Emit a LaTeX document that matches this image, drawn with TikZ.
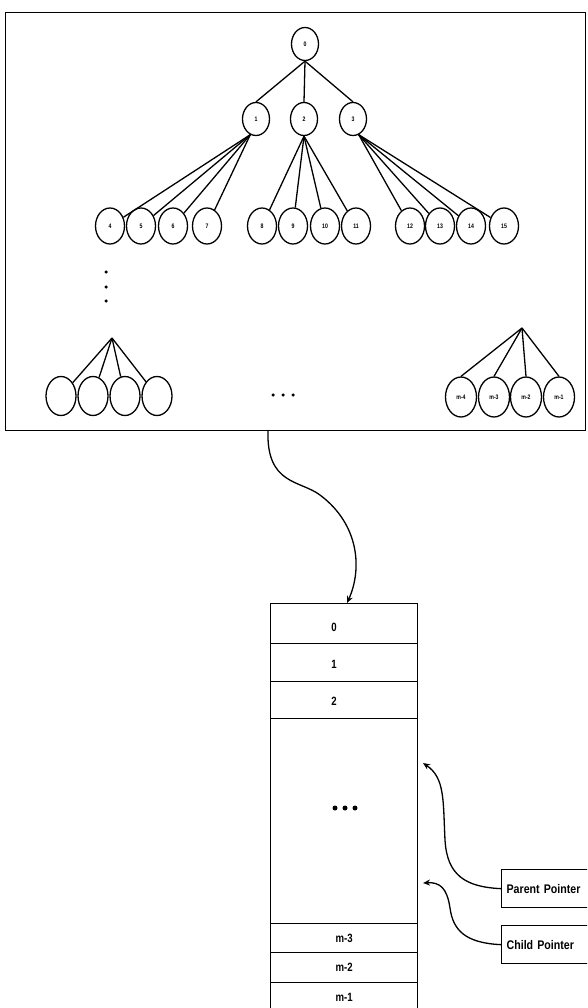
\documentclass[tikz,border=0pt]{standalone}
\usepackage{fontspec}
\setsansfont[FakeStretch=0.8]{Liberation Sans}
\newfontfamily\ptrfont[FakeStretch=0.85]{Liberation Sans}
\usetikzlibrary{shapes.geometric,arrows.meta}
\begin{document}
\begin{tikzpicture}[x=1pt,y=-1pt, line width=1.3pt,
  tnode/.style={draw, ellipse, inner sep=0pt, minimum width=27pt, minimum height=33pt,
    font=\sffamily\bfseries\fontsize{6.5}{6.5}\selectfont},
  leaf/.style={tnode, minimum width=29pt, minimum height=36pt},
  bleaf/.style={tnode, minimum width=30pt, minimum height=39pt},
  cell/.style={draw, anchor=north west, minimum width=147pt, inner sep=0pt,
    font=\sffamily\bfseries\fontsize{12}{12}\selectfont},
  lbl/.style={font=\sffamily\bfseries\fontsize{12}{12}\selectfont, inner sep=0pt},
  ptrbox/.style={draw, anchor=north west, text width=110pt, align=left, inner xsep=5pt,
    minimum height=38pt, font=\ptrfont\bfseries\fontsize{12.5}{12.5}\selectfont},
  ptr/.style={-{Stealth[length=7pt,width=6pt]}},
  dot/.style={fill, circle, inner sep=0pt, minimum size=3.5pt},
  bdot/.style={fill, circle, inner sep=0pt, minimum size=5pt},
]
\useasboundingbox (0,0) rectangle (587,1008);
\begin{scope}
\clip (0,0) rectangle (587,1008);
% tree frame
\node[draw, anchor=north west, minimum width=580pt, minimum height=418pt, inner sep=0pt] (frame) at (5,12) {};
% tree nodes
\node[tnode] (r) at (305,44) {0};
\node[tnode] (n1) at (256,119) {1};
\node[tnode] (n2) at (304,119) {2};
\node[tnode] (n3) at (353,119) {3};
\foreach \i/\x in {4/110,5/141,6/173,7/207,8/262,9/293,10/325,11/356,12/410,13/440,14/471,15/504}
  \node[leaf] (l\i) at (\x,226) {\i};
\draw (r.south) -- (n1.north);
\draw (r.south) -- (n2.north);
\draw (r.south) -- (n3.north);
\foreach \i in {4,5,6,7} \draw (n1.-110) -- (l\i);
\foreach \i in {8,9,10,11} \draw (n2.south) -- (l\i);
\foreach \i in {12,13,14,15} \draw (n3.-70) -- (l\i);
% vertical dots
\node[dot] (v1) at (106,272) {};
\node[dot] (v2) at (106,287) {};
\node[dot] (v3) at (106,301) {};
% bottom left subtree
\coordinate (ap1) at (112,338);
\foreach \j/\x in {1/61,2/93,3/125,4/157} {
  \node[bleaf] (b\j) at (\x,396) {};
  \draw (ap1) -- (b\j);
}
% horizontal dots
\node[dot] (h1) at (273,395) {};
\node[dot] (h2) at (283,395) {};
\node[dot] (h3) at (293,395) {};
% bottom right subtree
\coordinate (ap2) at (522,328);
\foreach \j/\x/\t in {1/461/m-4,2/494/m-3,3/526/m-2,4/559/m-1} {
  \node[bleaf, minimum width=31pt, minimum height=40pt] (e\j) at (\x,397) {\t};
  \draw (ap2) -- (e\j.north);
}
% array
\node[cell, minimum height=40pt] (c0) at (270,603) {};
\node[cell, minimum height=38pt] (c1) at (270,643) {};
\node[cell, minimum height=37pt] (c2) at (270,681) {};
\node[lbl] (t0) at (334,627) {0};
\node[lbl] (t1) at (334,664) {1};
\node[lbl] (t2) at (334,701) {2};
\node[cell, minimum height=205pt] (cd) at (270,718) {};
\node[cell, minimum height=29pt] (cm3) at (270,923) {m-3};
\node[cell, minimum height=30pt] (cm2) at (270,952) {m-2};
\node[cell, minimum height=30pt] (cm1) at (270,982) {m-1};
\node[bdot] (d1) at (335,808) {};
\node[bdot] (d2) at (345,808) {};
\node[bdot] (d3) at (355,808) {};
% pointer boxes
\node[ptrbox] (pp) at (501,869) {Parent Pointer};
\node[ptrbox] (cp) at (501,925) {Child Pointer};
% connectors
\coordinate (fs) at (268,430);
\coordinate (ae) at (347,603);
\draw[ptr] (fs) .. controls (266,485) and (300,480) .. (320,495)
  .. controls (360,525) and (362,570) .. (ae);
\coordinate (pe) at (423,763);
\draw[ptr] (pp.west) .. controls (465,887) and (447,875) .. (445,840)
  .. controls (443,800) and (445,778) .. (pe);
\coordinate (ce) at (423,883);
\draw[ptr] (cp.west) .. controls (465,943) and (453,930) .. (450,908)
  .. controls (447,888) and (440,882) .. (ce);
\end{scope}
\end{tikzpicture}
\end{document}
